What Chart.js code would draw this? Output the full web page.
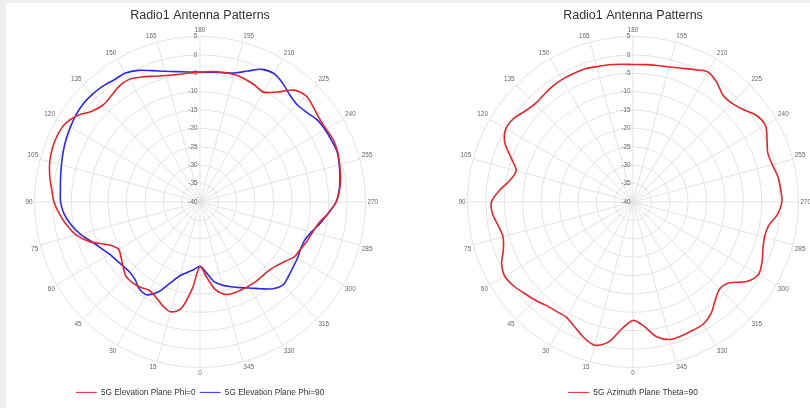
<!DOCTYPE html>
<html>
<head>
<meta charset="utf-8">
<script src="https://cdn.jsdelivr.net/npm/chart.js@4.4.0/dist/chart.umd.min.js"></script>
<style>
  html, body { margin: 0; padding: 0; width: 810px; height: 408px; overflow: hidden; background: #efefef; }
  #panel { position: absolute; left: 6px; top: 3px; width: 900px; height: 420px; background: #ffffff; }
  canvas { position: absolute; top: 0; }
</style>
</head>
<body>
<div id="panel"></div>
<canvas id="elevation" width="390" height="408" style="left:5px"></canvas>
<canvas id="azimuth" width="390" height="408" style="left:438px"></canvas>
<script>
// Angles in degrees (5° steps); every third one carries a label.
const angles = [
  0, 5, 10, 15, 20, 25, 30, 35, 40, 45, 50, 55, 60, 65, 70, 75, 80, 85,
  90, 95, 100, 105, 110, 115, 120, 125, 130, 135, 140, 145, 150, 155, 160, 165, 170, 175,
  180, 185, 190, 195, 200, 205, 210, 215, 220, 225, 230, 235, 240, 245, 250, 255, 260, 265,
  270, 275, 280, 285, 290, 295, 300, 305, 310, 315, 320, 325, 330, 335, 340, 345, 350, 355
];

// Gain in dB, one value per angle above.
const elevationPhi0 = [
  -22.5, -16.5, -10.6, -9.1, -10.1, -11.5, -12.3, -11.7, -11.4, -11.5, -12.7, -13.8, -14.4, -12.5, -8.3, -5.2, -3.3, -1.7,
  -0.3, 0.5, 1.5, 2.3, 2.7, 2.8, 2.4, 0.9, -1.6, -2.7, -2.4, -1.6, -1.5, -2.5, -3.6, -4.4, -4.8, -4.8,
  -4.7, -4.4, -4.2, -4.1, -4.4, -4.9, -5.5, -3.5, -0.3, 0.8, 0.2, -0.4, -0.4, 0.0, -0.2, -0.7, -1.2, -1.9,
  -3.0, -5.0, -7.2, -8.3, -9.0, -9.8, -10.3, -11.8, -13.0, -13.6, -13.7, -13.6, -13.6, -13.6, -13.6, -14.0, -15.8, -19.5
];

const elevationPhi90 = [
  -22.5, -21.6, -20.6, -19.3, -16.7, -13.0, -10.9, -11.2, -12.5, -13.0, -12.8, -12.3, -11.6, -10.3, -8.6, -6.3, -4.4, -2.9,
  -2.1, -1.9, -1.5, -1.0, -0.4, 0.2, 0.7, 1.2, 1.5, 1.4, 1.1, 0.6, 0.5, -0.5, -2.0, -3.2, -4.0, -4.5,
  -4.7, -4.6, -4.3, -3.7, -2.1, -0.2, 0.3, -0.7, -2.0, -2.6, -2.1, -1.1, -0.7, -0.5, -0.3, -0.8, -1.4, -2.0,
  -3.0, -5.0, -6.8, -8.6, -9.7, -9.8, -9.4, -9.1, -8.6, -8.1, -9.2, -11.2, -13.0, -14.3, -15.5, -16.6, -18.0, -20.8
];

const azimuthTheta90 = [
  -7.8, -5.4, -1.3, 0.3, -0.8, -2.5, -3.8, -3.7, -3.3, -2.3, -1.4, -0.3, 0.3, -0.6, -2.5, -3.4, -2.8, -1.7,
  -1.5, -3.6, -6.0, -7.1, -4.7, -1.5, -0.1, -0.4, -1.6, -2.3, -2.1, -1.7, -1.5, -1.5, -1.5, -1.9, -2.1, -2.4,
  -2.6, -2.5, -2.3, -2.0, -1.3, -0.3, 0.8, -0.3, -2.0, -2.0, -0.9, 1.0, 1.6, 0.2, -1.0, -0.8, 0.0, 0.3,
  0.5, -0.6, -2.6, -3.0, -2.4, -1.3, -0.6, -2.3, -5.8, -6.6, -5.2, -3.0, -1.7, -1.5, -1.3, -1.3, -2.8, -6.1
];

// Radial axis range and step (dB).
const gainMin = -40;
const gainMax = 5;
const gainStep = 5;

const chartTitle = 'Radio1 Antenna Patterns';
const fontFamily = "'Liberation Sans', Arial, Helvetica, sans-serif";

// The polar plot starts at 180° at the top and runs clockwise.
const order = angles.map((_, i) => (i + angles.indexOf(180)) % angles.length);
const rotate = arr => order.map(i => arr[i]);
const spokeAngles = rotate(angles);

const isLabelled = i => spokeAngles[i] % 15 === 0;

function tickText(value) {
  // Right-align the ring labels just left of the vertical spoke.
  const s = String(value);
  let w = 0;
  for (const ch of s) w += ch === '-' ? 2.2 : 3.6;
  const pad = Math.round((w + 5) / 1.8);
  return s + ' '.repeat(pad);
}

// Spacing of the angle labels around the outer ring: the top and bottom
// labels get a tall line box so the plot keeps room above the legend.
function labelPadding(ctx) {
  const a = spokeAngles[ctx.index];
  if (a === 180) return -4.75;
  if (a === 0) return -5.35;
  return isLabelled(ctx.index) ? 2 : 0;
}

function labelFont(ctx) {
  const a = spokeAngles[ctx.index];
  if (a === 180) return { family: fontFamily, size: 6.4, lineHeight: '21.5px' };
  if (a === 0) return { family: fontFamily, size: 6.4, lineHeight: '22.1px' };
  return isLabelled(ctx.index)
    ? { family: fontFamily, size: 6.4, lineHeight: 1.2 }
    : { family: fontFamily, size: 1, lineHeight: 1 };
}

function polarOptions() {
  return {
    responsive: false,
    animation: false,
    layout: { padding: { top: 0, bottom: 1.45, left: 0, right: 0 } },
    plugins: {
      title: {
        display: true,
        text: chartTitle,
        color: '#333',
        font: { family: fontFamily, size: 12.5, weight: 'normal' },
        padding: { top: 8.5, bottom: -3.75 }
      },
      legend: {
        position: 'bottom',
        labels: {
          usePointStyle: true,
          pointStyle: 'line',
          pointStyleWidth: 21,
          padding: 4,
          color: '#333',
          font: { family: fontFamily, size: 8.3 }
        }
      },
      tooltip: { enabled: false }
    },
    elements: {
      point: { radius: 0, hoverRadius: 0 },
      line: { borderWidth: 1.6, tension: 0.3, fill: false }
    },
    scales: {
      r: {
        min: gainMin,
        max: gainMax,
        ticks: {
          stepSize: gainStep,
          color: '#666',
          font: { family: fontFamily, size: 6.4 },
          showLabelBackdrop: false,
          backdropPadding: { top: -3.2, bottom: -3.2, left: 0, right: 0 },
          callback: v => tickText(v)
        },
        grid: { circular: true, color: '#e3e3e3', lineWidth: 1 },
        angleLines: {
          color: '#e3e3e3',
          lineWidth: ctx => (isLabelled(ctx.index) ? 1 : 0)
        },
        pointLabels: {
          color: '#666',
          padding: labelPadding,
          font: labelFont,
          callback: label => (label % 15 === 0 ? String(label) : '')
        }
      }
    }
  };
}

new Chart(document.getElementById('elevation'), {
  type: 'radar',
  data: {
    labels: spokeAngles,
    datasets: [
      { label: '5G Elevation Plane Phi=0', data: rotate(elevationPhi0), borderColor: '#e4262c', backgroundColor: '#e4262c' },
      { label: '5G Elevation Plane Phi=90', data: rotate(elevationPhi90), borderColor: '#2b2be3', backgroundColor: '#2b2be3' }
    ]
  },
  options: polarOptions()
});

new Chart(document.getElementById('azimuth'), {
  type: 'radar',
  data: {
    labels: spokeAngles,
    datasets: [
      { label: '5G Azimuth Plane Theta=90', data: rotate(azimuthTheta90), borderColor: '#e4262c', backgroundColor: '#e4262c' }
    ]
  },
  options: polarOptions()
});
</script>
</body>
</html>
